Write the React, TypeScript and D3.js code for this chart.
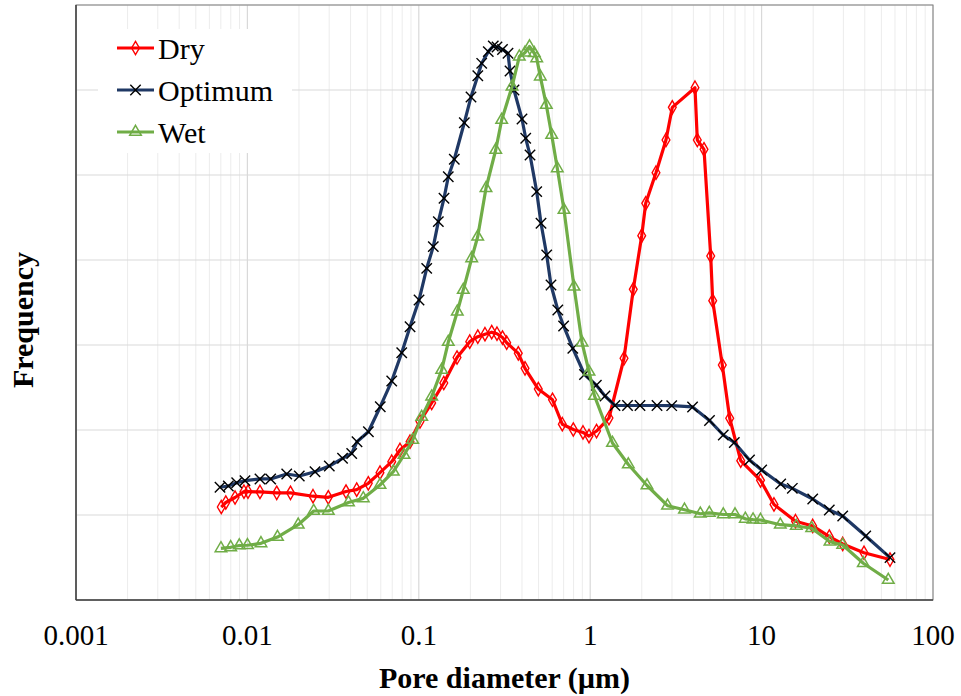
import React from "react";
import * as d3 from "d3";

// ---- Data (pore diameter in µm, frequency in arbitrary units) ----
const dryDiameter = [0.00704, 0.00748, 0.00847, 0.00955, 0.01008, 0.01184, 0.01483, 0.01784, 0.02414, 0.02965, 0.03761, 0.04342, 0.05075, 0.05937, 0.06951, 0.07768, 0.08886, 0.1016, 0.1189, 0.1399, 0.1671, 0.1982, 0.2209, 0.2433, 0.2663, 0.2859, 0.3078, 0.3257, 0.3806, 0.4166, 0.498, 0.6026, 0.6874, 0.7969, 0.9078, 0.984, 1.089, 1.287, 1.575, 1.784, 1.998, 2.108, 2.42, 2.768, 3.013, 4.087, 4.216, 4.613, 5.048, 5.185, 5.898, 6.515, 7.553, 9.854, 11.81, 15.77, 19.87, 24.83, 29.73, 39.57, 56.12];
const dryFrequency = [1.094, 1.147, 1.206, 1.274, 1.274, 1.271, 1.261, 1.261, 1.221, 1.208, 1.276, 1.298, 1.373, 1.498, 1.627, 1.765, 1.862, 2.1, 2.318, 2.553, 2.853, 3.039, 3.098, 3.127, 3.151, 3.133, 3.088, 3.027, 2.902, 2.726, 2.482, 2.356, 2.068, 2.006, 1.971, 1.929, 1.988, 2.141, 2.844, 3.655, 4.286, 4.667, 5.027, 5.412, 5.796, 6.027, 5.412, 5.302, 4.047, 3.521, 2.765, 2.138, 1.639, 1.408, 1.124, 0.927, 0.871, 0.745, 0.659, 0.556, 0.476];

const optDiameter = [0.00692, 0.00774, 0.00866, 0.00968, 0.01184, 0.01367, 0.01696, 0.02008, 0.0248, 0.03005, 0.0359, 0.0406, 0.0436, 0.0508, 0.0596, 0.0695, 0.0795, 0.0889, 0.1003, 0.1112, 0.1215, 0.13, 0.1403, 0.1486, 0.1611, 0.1843, 0.2016, 0.2209, 0.2328, 0.2543, 0.272, 0.2859, 0.3078, 0.3314, 0.3405, 0.3593, 0.4, 0.4205, 0.4455, 0.4874, 0.5164, 0.5574, 0.5905, 0.6471, 0.6995, 0.7916, 0.9262, 1.086, 1.22, 1.395, 1.651, 1.952, 2.453, 2.989, 3.955, 4.966, 5.977, 6.931, 8.501, 10.01, 12.92, 15.11, 19.87, 24.83, 29.73, 40.5, 56.12];
const optFrequency = [1.326, 1.341, 1.38, 1.404, 1.424, 1.424, 1.482, 1.459, 1.509, 1.576, 1.667, 1.724, 1.862, 1.98, 2.274, 2.576, 2.909, 3.215, 3.529, 3.902, 4.157, 4.451, 4.726, 4.98, 5.185, 5.615, 5.918, 6.167, 6.314, 6.451, 6.518, 6.506, 6.476, 6.432, 6.224, 6.0, 5.659, 5.432, 5.235, 4.804, 4.432, 4.059, 3.706, 3.412, 3.224, 2.961, 2.653, 2.526, 2.4, 2.288, 2.288, 2.288, 2.288, 2.286, 2.271, 2.112, 1.941, 1.853, 1.647, 1.529, 1.365, 1.314, 1.188, 1.059, 0.988, 0.753, 0.498];

const wetDiameter = [0.00701, 0.00799, 0.00897, 0.01001, 0.012, 0.01498, 0.01979, 0.02437, 0.02965, 0.03889, 0.04744, 0.05937, 0.07101, 0.08198, 0.09213, 0.104, 0.1189, 0.136, 0.1486, 0.1677, 0.1818, 0.2035, 0.2206, 0.2466, 0.281, 0.3045, 0.3499, 0.3858, 0.4166, 0.4425, 0.472, 0.4874, 0.5116, 0.5545, 0.5962, 0.6428, 0.7034, 0.8045, 0.8959, 0.984, 1.06, 1.349, 1.669, 2.145, 2.825, 3.549, 4.39, 4.954, 5.977, 6.997, 8.035, 8.911, 9.854, 12.86, 15.94, 19.6, 25.06, 29.73, 39.21, 54.85];
const wetFrequency = [0.608, 0.62, 0.641, 0.644, 0.667, 0.741, 0.886, 1.047, 1.047, 1.147, 1.196, 1.353, 1.509, 1.706, 1.882, 2.153, 2.392, 2.706, 3.035, 3.392, 3.647, 4.02, 4.274, 4.844, 5.294, 5.647, 6.039, 6.392, 6.439, 6.512, 6.432, 6.373, 6.157, 5.824, 5.471, 5.079, 4.588, 3.686, 3.029, 2.686, 2.4, 1.847, 1.594, 1.347, 1.109, 1.062, 1.015, 1.024, 1.006, 1.006, 0.955, 0.946, 0.941, 0.886, 0.871, 0.844, 0.686, 0.647, 0.432, 0.235];

const seriesNames = ["Dry", "Optimum", "Wet"];
const xTickValues = [0.001, 0.01, 0.1, 1, 10, 100];
const xTickLabels = ["0.001", "0.01", "0.1", "1", "10", "100"];
const yGridValues = [1, 2, 3, 4, 5, 6, 7];

const W = 961;
const H = 696;
const M = { left: 76, right: 933, top: 5, bottom: 600 };
const SERIF = "'Liberation Serif', 'Times New Roman', serif";

export default function App() {
  const x = d3.scaleLog().domain([0.001, 100]).range([M.left, M.right]);
  const y = d3.scaleLinear().domain([0, 7]).range([M.bottom, M.top]);

  const minorTicks: number[] = [];
  for (let e = -3; e < 2; e++) {
    for (let k = 2; k <= 9; k++) minorTicks.push(k * Math.pow(10, e));
  }

  const series = [
    { name: seriesNames[0], xs: dryDiameter, ys: dryFrequency, color: "#FF0000", marker: "diamond" },
    { name: seriesNames[1], xs: optDiameter, ys: optFrequency, color: "#1F3864", marker: "x" },
    { name: seriesNames[2], xs: wetDiameter, ys: wetFrequency, color: "#70AD47", marker: "triangle" },
  ];

  const line = d3
    .line<[number, number]>()
    .x((d) => x(d[0]))
    .y((d) => y(d[1]))
    .curve(d3.curveLinear);

  const diamond = d3.symbol().type(d3.symbolDiamond).size(52)()!;
  const triangle = d3.symbol().type(d3.symbolTriangle).size(58)()!;
  const cross = d3.symbol().type(d3.symbolX).size(72)()!;

  const markerEl = (m: string, color: string, key: string | number, cx: number, cy: number) => {
    if (m === "diamond")
      return <path key={key} d={diamond} transform={`translate(${cx},${cy})`} fill="none" stroke={color} strokeWidth={1.4} />;
    if (m === "triangle")
      return <path key={key} d={triangle} transform={`translate(${cx},${cy})`} fill="none" stroke={color} strokeWidth={1.5} />;
    return <path key={key} d={cross} transform={`translate(${cx},${cy})`} fill="none" stroke="#000" strokeWidth={1.4} />;
  };

  const legendX = 117;
  const legendY = [48, 90, 132];

  return (
    <svg width={W} height={H} style={{ position: "absolute", left: 0, top: 0, background: "#fff" }}>
      <rect x={0} y={0} width={W} height={H} fill="#fff" />
      {/* grid */}
      {minorTicks.map((t, i) => (
        <line key={"mn" + i} x1={x(t)} x2={x(t)} y1={M.top} y2={M.bottom} stroke="#ececec" strokeWidth={1} />
      ))}
      {xTickValues.map((t, i) => (
        <line key={"mj" + i} x1={x(t)} x2={x(t)} y1={M.top} y2={M.bottom} stroke="#d9d9d9" strokeWidth={1.2} />
      ))}
      {yGridValues.map((v, i) => (
        <line key={"hg" + i} x1={M.left} x2={M.right} y1={y(v)} y2={y(v)} stroke="#d9d9d9" strokeWidth={1.2} />
      ))}
      {/* frame */}
      <rect x={M.left} y={M.top} width={M.right - M.left} height={M.bottom - M.top} fill="none" stroke="#808080" strokeWidth={1} />
      <line x1={M.left} x2={M.left} y1={M.top} y2={M.bottom} stroke="#404040" strokeWidth={1.5} />
      <line x1={M.left} x2={M.right} y1={M.bottom} y2={M.bottom} stroke="#404040" strokeWidth={1.5} />

      {/* series */}
      {series.map((s) => {
        const pts: [number, number][] = s.xs.map((v, i) => [v, s.ys[i]]);
        return (
          <g key={s.name}>
            <path d={line(pts)!} fill="none" stroke={s.color} strokeWidth={3.2} strokeLinejoin="round" />
            {pts.map((p, i) => markerEl(s.marker, s.color, i, x(p[0]), y(p[1])))}
          </g>
        );
      })}

      {/* legend */}
      <rect x={98} y={29} width={194} height={124} fill="#fff" />
      {series.map((s, i) => (
        <g key={"lg" + s.name}>
          <line x1={legendX} x2={legendX + 37} y1={legendY[i]} y2={legendY[i]} stroke={s.color} strokeWidth={3.2} />
          {markerEl(s.marker, s.color, "lm" + i, legendX + 18.5, legendY[i])}
          <text x={legendX + 41} y={legendY[i]} dy="0.35em" fontFamily={SERIF} fontSize={30} fill="#000">
            {s.name}
          </text>
        </g>
      ))}

      {/* x tick labels */}
      {xTickValues.map((t, i) => (
        <text key={"xt" + i} x={x(t)} y={645} textAnchor="middle" fontFamily={SERIF} fontSize={29} fill="#000">
          {xTickLabels[i]}
        </text>
      ))}

      {/* axis titles */}
      <text x={(M.left + M.right) / 2} y={688} textAnchor="middle" fontFamily={SERIF} fontSize={30} fontWeight="bold" fill="#000">
        Pore diameter (µm)
      </text>
      <text transform={`translate(33,320) rotate(-90)`} textAnchor="middle" fontFamily={SERIF} fontSize={30} fontWeight="bold" fill="#000">
        Frequency
      </text>
    </svg>
  );
}
